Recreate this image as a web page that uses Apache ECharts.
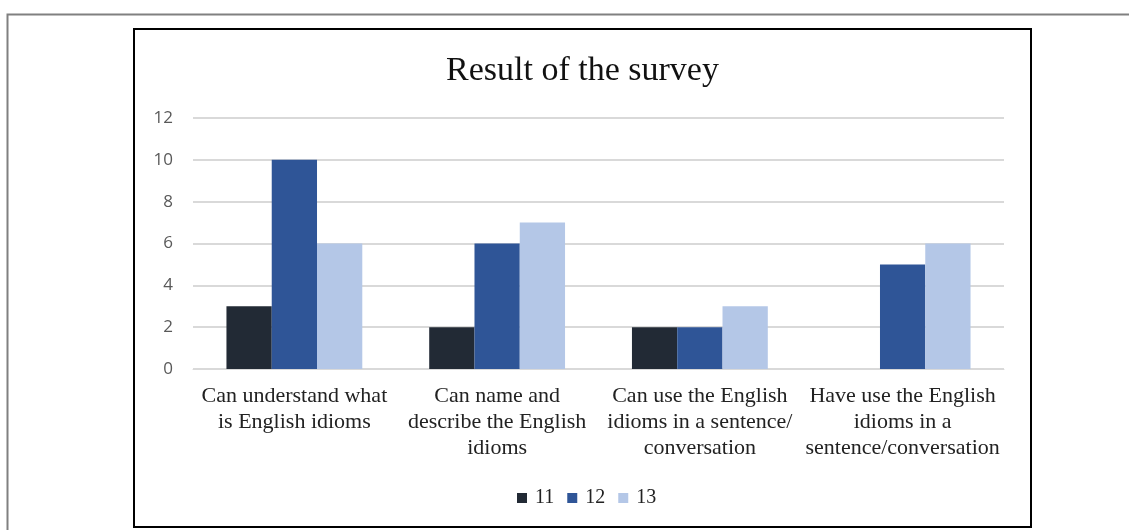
<!DOCTYPE html>
<html>
<head>
<meta charset="utf-8">
<script src="https://cdn.jsdelivr.net/npm/echarts@6/dist/echarts.min.js"></script>
<style>
html, body { margin: 0; padding: 0; background: #fff; }
#chart { width: 1129px; height: 530px; }
</style>
</head>
<body>
<div id="chart"></div>
<script>
// 数据
var categories = [
    'Can understand what\nis English idioms',
    'Can name and\ndescribe the English\nidioms',
    'Can use the English\nidioms in a sentence/\nconversation',
    'Have use the English\nidioms in a\nsentence/conversation'
];
var seriesNames = ['11', '12', '13'];
var values11 = [3, 2, 2, 0];
var values12 = [10, 6, 2, 5];
var values13 = [6, 7, 3, 6];
var colors = ['#222a35', '#2f5597', '#b4c7e7'];

var chart = echarts.init(document.getElementById('chart'));
var serif = '"Liberation Serif", "DejaVu Serif", serif';

chart.setOption({
    animation: false,
    color: colors,
    title: {
        text: 'Result of the survey',
        left: 441, top: 49,
        textStyle: { fontFamily: serif, fontSize: 34, fontWeight: 'normal', color: '#111' }
    },
    // 外框
    graphic: [
        { type: 'rect', shape: { x: 7.5, y: 14.5, width: 1200, height: 600 },
          style: { fill: null, stroke: '#808080', lineWidth: 2 }, z: -1 },
        { type: 'rect', shape: { x: 134, y: 29, width: 897, height: 498 },
          style: { fill: null, stroke: '#000', lineWidth: 2 }, z: -1 }
    ],
    legend: {
        data: seriesNames,
        left: 512, top: 483,
        itemWidth: 10, itemHeight: 10, itemGap: 13,
        icon: 'rect',
        textStyle: { fontFamily: serif, fontSize: 20, color: '#222', padding: [0, 0, 0, 3] }
    },
    grid: { left: 193, right: 125, top: 118, bottom: 161 },
    xAxis: {
        type: 'category',
        data: categories,
        axisLine: { lineStyle: { color: '#d9d9d9', width: 1 } },
        axisTick: { show: false },
        axisLabel: {
            interval: 0, fontFamily: serif, fontSize: 22, color: '#222',
            lineHeight: 26, margin: 14
        }
    },
    yAxis: {
        type: 'value',
        min: 0, max: 12, interval: 2,
        axisLine: { show: false },
        axisTick: { show: false },
        splitLine: { lineStyle: { color: '#d9d9d9', width: 2 } },
        axisLabel: { fontFamily: '"Open Sans", sans-serif', fontSize: 17, color: '#595959', margin: 20 }
    },
    series: [
        { name: seriesNames[0], type: 'bar', data: values11, barGap: '0%', barCategoryGap: '33%' },
        { name: seriesNames[1], type: 'bar', data: values12, barGap: '0%', barCategoryGap: '33%' },
        { name: seriesNames[2], type: 'bar', data: values13, barGap: '0%', barCategoryGap: '33%' }
    ]
});
</script>
</body>
</html>
